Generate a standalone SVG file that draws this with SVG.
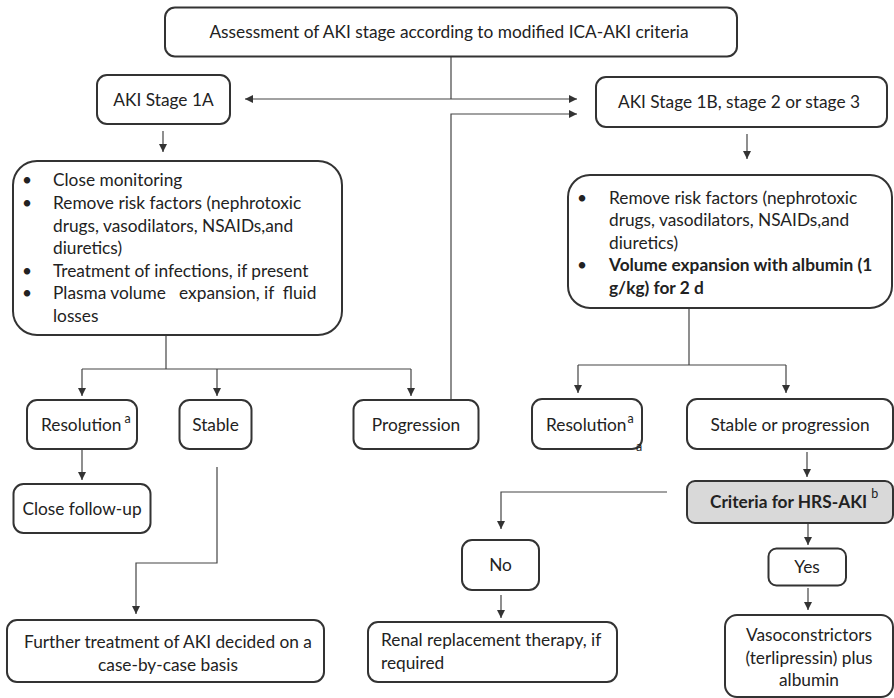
<svg xmlns="http://www.w3.org/2000/svg" width="894" height="698" viewBox="0 0 894 698">
<defs>
<style>
.box{fill:#fff;stroke:#333;stroke-width:2}
.grey{fill:#d9d9d9}
.t{font-family:Lato,"Open Sans","Liberation Sans",sans-serif;font-size:17.3px;fill:#222}
.c{text-anchor:middle}
.b{font-weight:bold}
.sup{font-size:12.5px}
.conn path{fill:none;stroke:#444;stroke-width:1.2}
</style>
<marker id="ah" markerWidth="10" markerHeight="10" refX="8" refY="4" orient="auto" markerUnits="userSpaceOnUse">
<path d="M0,0 L8,4 L0,8 z" fill="#333"/>
</marker>
<marker id="ahs" markerWidth="10" markerHeight="10" refX="0" refY="4" orient="auto" markerUnits="userSpaceOnUse">
<path d="M8,0 L0,4 L8,8 z" fill="#333"/>
</marker>
</defs>
<rect width="894" height="698" fill="#fff"/>

<g class="conn">
<path d="M451 57 V99"/>
<path d="M245 99 H577" marker-start="url(#ahs)" marker-end="url(#ah)"/>
<path d="M451 400 V114 H577" marker-end="url(#ah)"/>
<path d="M163 131 V152" marker-end="url(#ah)"/>
<path d="M747 134 V159" marker-end="url(#ah)"/>
<path d="M166 335 V369"/>
<path d="M82 369 H411"/>
<path d="M82 369 V396" marker-end="url(#ah)"/>
<path d="M217 369 V396" marker-end="url(#ah)"/>
<path d="M411 369 V396" marker-end="url(#ah)"/>
<path d="M82 449 V480" marker-end="url(#ah)"/>
<path d="M217 467 V563 H136 V614" marker-end="url(#ah)"/>
<path d="M689 308 V365"/>
<path d="M578 365 H786"/>
<path d="M578 365 V393" marker-end="url(#ah)"/>
<path d="M786 365 V393" marker-end="url(#ah)"/>
<path d="M807 452 V477" marker-end="url(#ah)"/>
<path d="M667 492 H501 V529" marker-end="url(#ah)"/>
<path d="M501 595 V618" marker-end="url(#ah)"/>
<path d="M808 523 V545" marker-end="url(#ah)"/>
<path d="M808 588 V610" marker-end="url(#ah)"/>
</g>

<g id="assessment">
<rect class="box" x="165" y="7.5" width="572" height="49" rx="10"/>
<text class="t c" x="449" y="38">Assessment of AKI stage according to modified ICA-AKI criteria</text>
</g>

<g id="stage1a">
<rect class="box" x="97" y="75" width="133" height="49" rx="10"/>
<text class="t c" x="163.5" y="106">AKI Stage 1A</text>
</g>

<g id="stage1b">
<rect class="box" x="596" y="77" width="291" height="50" rx="10"/>
<text class="t c" x="739" y="108">AKI Stage 1B, stage 2 or stage 3</text>
</g>

<g id="left-actions">
<rect class="box" x="13" y="161" width="329" height="174" rx="24"/>
<text class="t" x="22" y="186">•</text><text class="t" x="53" y="186">Close monitoring</text>
<text class="t" x="22" y="209">•</text><text class="t" x="53" y="209">Remove risk factors (nephrotoxic</text>
<text class="t" x="53" y="232">drugs, vasodilators, NSAIDs,and</text>
<text class="t" x="53" y="254">diuretics)</text>
<text class="t" x="22" y="277">•</text><text class="t" x="53" y="277">Treatment of infections, if present</text>
<text class="t" x="22" y="299">•</text><text class="t" x="53" y="299" xml:space="preserve">Plasma volume   expansion, if  fluid</text>
<text class="t" x="53" y="322">losses</text>
</g>

<g id="right-actions">
<rect class="box" x="568" y="175" width="324" height="133" rx="22"/>
<text class="t" x="577" y="204">•</text><text class="t" x="609" y="204">Remove risk factors (nephrotoxic</text>
<text class="t" x="609" y="226">drugs, vasodilators, NSAIDs,and</text>
<text class="t" x="609" y="249">diuretics)</text>
<text class="t" x="577" y="271">•</text><text class="t b" x="609" y="271">Volume expansion with albumin (1</text>
<text class="t b" x="609" y="294">g/kg) for 2 d</text>
</g>

<g id="resolution-left">
<rect class="box" x="27" y="400" width="110" height="49" rx="10"/>
<text class="t" x="41" y="431">Resolution<tspan class="sup" dx="3" dy="-8">a</tspan></text>
</g>

<g id="stable">
<rect class="box" x="179.5" y="400" width="72" height="49" rx="10"/>
<text class="t c" x="215.5" y="431">Stable</text>
</g>

<g id="progression">
<rect class="box" x="353.5" y="400" width="125" height="49" rx="10"/>
<text class="t c" x="416" y="431">Progression</text>
</g>

<g id="close-follow-up">
<rect class="box" x="13.5" y="484" width="137" height="49" rx="10"/>
<text class="t c" x="82" y="515">Close follow-up</text>
</g>

<g id="further-treatment">
<rect class="box" x="7" y="620" width="317" height="62" rx="10"/>
<text class="t c" x="168" y="648">Further treatment of AKI decided on a</text>
<text class="t c" x="168" y="671">case-by-case basis</text>
</g>

<g id="resolution-right">
<rect class="box" x="532" y="399" width="110" height="50" rx="10"/>
<text class="t" x="546" y="431">Resolution<tspan class="sup" dx="1" dy="-8">a</tspan></text>
<text class="t sup" x="636" y="451">a</text>
</g>

<g id="stable-or-progression">
<rect class="box" x="687" y="399" width="206" height="50" rx="10"/>
<text class="t c" x="790" y="431">Stable or progression</text>
</g>

<g id="criteria">
<rect class="box grey" x="687" y="481" width="206" height="42" rx="8"/>
<text class="t b" x="710" y="508">Criteria for HRS-AKI<tspan class="sup" style="font-weight:normal" dx="4" dy="-10">b</tspan></text>
</g>

<g id="no">
<rect class="box" x="462" y="540" width="77" height="50" rx="10"/>
<text class="t c" x="500.5" y="571">No</text>
</g>

<g id="renal">
<rect class="box" x="368" y="622" width="249" height="60" rx="10"/>
<text class="t" x="381" y="646">Renal replacement therapy, if</text>
<text class="t" x="381" y="669">required</text>
</g>

<g id="yes">
<rect class="box" x="768.5" y="548.5" width="77.5" height="37" rx="8"/>
<text class="t c" x="807" y="573">Yes</text>
</g>

<g id="vasoconstrictors">
<rect class="box" x="725" y="615" width="168" height="82" rx="12"/>
<text class="t c" x="809" y="641">Vasoconstrictors</text>
<text class="t c" x="809" y="664">(terlipressin) plus</text>
<text class="t c" x="809" y="686">albumin</text>
</g>
</svg>
